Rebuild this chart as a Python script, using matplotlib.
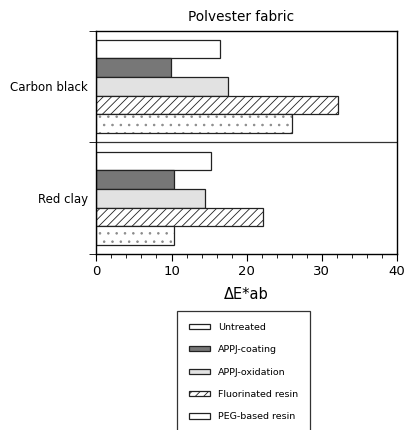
import numpy as np
import matplotlib
matplotlib.use('Agg')
import matplotlib.pyplot as plt
from matplotlib.ticker import MultipleLocator

# Data (top group first)
categories = ['Carbon black', 'Red clay']
series = ['Untreated', 'APPJ-coating', 'APPJ-oxidation', 'Fluorinated resin', 'PEG-based resin']
untreated = [16.4, 15.3]
appj_coating = [9.9, 10.3]
appj_oxidation = [17.5, 14.5]
fluorinated = [32.2, 22.2]
peg_based = [26.1, 10.3]

values = [untreated, appj_coating, appj_oxidation, fluorinated, peg_based]
colors = ['white', '#777777', '#e2e2e2', 'white', 'white']
hatches = [None, None, None, '////', None]

plt.rcParams['font.family'] = 'DejaVu Sans'
plt.rcParams['hatch.linewidth'] = 0.6

fig = plt.figure(figsize=(4.05, 4.3), dpi=100)
ax = fig.add_axes([0.238, 0.409, 0.742, 0.520])

# categories: top group at y=1, bottom group at y=0
cat_y = np.array([1, 0])
bar_h = 0.167
for i, (vals, c, h) in enumerate(zip(values, colors, hatches)):
    y = cat_y + (2 - i) * bar_h
    if i == 4:
        # fine grey dot pattern underneath the outline
        ax.barh(y, vals, height=bar_h, color='white', edgecolor='#8a8a8a',
                linewidth=0, hatch='..')
        ax.barh(y, vals, height=bar_h, fill=False, edgecolor='#222222',
                linewidth=0.9, label=series[i])
    else:
        ax.barh(y, vals, height=bar_h, color=c, edgecolor='#222222', linewidth=0.9,
                hatch=h, label=series[i])

ax.set_xlim(0, 40)
ax.set_ylim(-0.5, 1.5)
ax.axhline(0.5, color='#333333', linewidth=0.9)

ax.set_yticks(cat_y)
ax.set_yticklabels(categories, fontsize=8.5)
ax.tick_params(axis='y', which='major', length=0, pad=6)
ax.set_yticks([-0.5, 0.5, 1.5], minor=True)
ax.tick_params(axis='y', which='minor', length=5, direction='out')

ax.xaxis.set_major_locator(MultipleLocator(10))
ax.xaxis.set_minor_locator(MultipleLocator(2))
ax.tick_params(axis='x', which='major', length=5, direction='out', labelsize=9.5, pad=2.5)
ax.tick_params(axis='x', which='minor', length=3, direction='out')

for s in ax.spines.values():
    s.set_linewidth(1.0)

ax.set_title('Polvester fabric', fontsize=9.8, pad=7, x=0.48)
ax.set_xlabel('ΔE*ab', fontsize=10.5, labelpad=7)

leg = fig.legend(loc='upper left', bbox_to_anchor=(0.437, 0.277), borderaxespad=0,
                 fontsize=6.8, handlelength=2.2, handleheight=0.45, labelspacing=1.42,
                 borderpad=1.25, handletextpad=0.9, fancybox=False, edgecolor='#333333',
                 framealpha=1)
leg.get_frame().set_linewidth(0.9)

fig.savefig('out.png', dpi=100)
